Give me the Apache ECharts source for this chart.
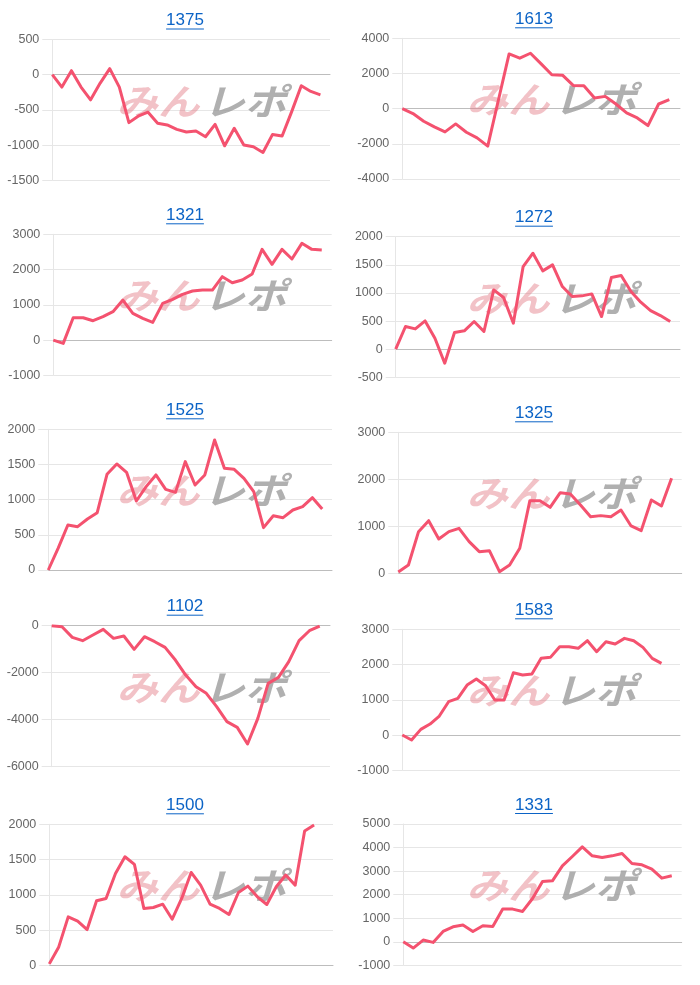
<!DOCTYPE html>
<html>
<head>
<meta charset="utf-8">
<script src="https://cdn.jsdelivr.net/npm/echarts@6/dist/echarts.min.js"></script>
<style>
html,body{margin:0;padding:0;background:#fff;}
#chart{width:700px;height:985px;}
</style>
</head>
<body>
<div id="chart"></div>
<script>
// ---- data ----
const titles = ['1375','1613','1321','1272','1525','1325','1102','1583','1500','1331'];
const categoryCounts = [30,27,29,30,30,29,28,31,31,29];
const yMins = [-1500,-4000,-1000,-500,0,0,-6000,-1000,0,-1000];
const yMaxs = [500,4000,3000,2000,2000,3000,0,3000,2000,5000];
const ySteps = [500,2000,1000,500,500,1000,2000,1000,500,1000];

const s1375 = [0,-176,57,-176,-357,-119,86,-176,-681,-586,-533,-690,-714,-776,-814,-800,-881,-705,-1010,-762,-1000,-1024,-1105,-848,-871,-524,-157,-238,-286];
const s1613 = [0,-280,-717,-1038,-1320,-868,-1340,-1660,-2130,490,3113,2868,3150,2547,1925,1906,1320,1302,604,698,264,-245,-528,-962,264,509];
const s1321 = [0,-95,634,634,549,662,804,1135,757,615,501,1041,1154,1296,1391,1419,1419,1798,1627,1703,1873,2573,2148,2573,2299,2744,2573,2554];
const s1272 = [0,403,361,503,195,-249,296,326,492,314,1054,918,462,1469,1706,1392,1499,1114,936,948,983,580,1274,1309,1025,835,687,598,492];
const s1525 = [0,308,640,616,725,815,1360,1507,1388,981,1185,1351,1147,1104,1540,1208,1351,1848,1445,1431,1303,1114,602,772,744,853,900,1028,867];
const s1325 = [30,177,886,1120,730,886,957,674,461,482,35,177,532,1546,1546,1404,1716,1687,1453,1205,1227,1205,1347,1007,908,1560,1432,2021];
const s1102 = [0,-43,-496,-638,-397,-156,-539,-440,-1007,-468,-681,-922,-1461,-2099,-2595,-2879,-3446,-4084,-4325,-5034,-3942,-2453,-2198,-1531,-638,-213,-14];
const s1583 = [0,-142,161,312,539,946,1041,1419,1589,1400,993,993,1769,1703,1731,2176,2204,2507,2507,2460,2677,2365,2649,2583,2743,2677,2488,2176,2034];
const s1500 = [20,261,687,626,507,915,948,1303,1540,1431,806,820,867,654,948,1317,1137,867,806,720,1033,1123,971,862,1114,1280,1137,1905,1990];
const s1331 = [0,-269,71,-28,438,636,707,438,679,650,1386,1386,1287,1838,2559,2588,3224,3620,4030,3648,3577,3648,3747,3323,3266,3083,2701,2800];
const seriesData = [s1375,s1613,s1321,s1272,s1525,s1325,s1102,s1583,s1500,s1331];

// ---- layout (px) ----
const boxes = [
  [52.3, 39.5, 330, 180.3],
  [402.3, 38.3, 680, 179],
  [53.3, 234.3, 331.7, 375.3],
  [395.7, 236.7, 680, 377.3],
  [48.3, 429.3, 332, 570],
  [398.3, 432.3, 681.7, 573.3],
  [51.7, 625.7, 330, 766.7],
  [402.3, 629.3, 680, 770.3],
  [49.3, 824.3, 333, 965.3],
  [403.3, 824, 681.7, 965.3]
];
const titleX = [185, 534];
const markX = [202, 552];

const FONT = "'Liberation Sans', Arial, sans-serif";
const TITLE_SIZE = 17;
const TITLE_COLOR = '#0b63c6';
const LINE_COLOR = '#f4526f';
const GRID_COLOR = '#e6e6e6';

const measure = (() => {
  const c = document.createElement('canvas').getContext('2d');
  return (t, f) => { c.font = f; return c.measureText(t).width; };
})();

const grid = [], xAxis = [], yAxis = [], series = [], title = [], graphic = [];
seriesData.forEach((data, i) => {
  const [l, t, r, b] = boxes[i];
  const col = i % 2;
  grid.push({left: l, top: t, width: r - l, height: b - t, containLabel: false});
  const cats = [];
  for (let k = 1; k <= categoryCounts[i]; k++) cats.push(String(k));
  xAxis.push({
    type: 'category', gridIndex: i, data: cats, boundaryGap: false,
    axisLabel: {show: false}, axisTick: {show: false}, splitLine: {show: false},
    axisLine: {show: true, onZero: true, lineStyle: {color: '#bdbdbd', width: 1}}
  });
  yAxis.push({
    type: 'value', gridIndex: i, min: yMins[i], max: yMaxs[i], interval: ySteps[i],
    axisLine: {show: true, lineStyle: {color: GRID_COLOR}},
    axisTick: {show: true, length: 10, lineStyle: {color: GRID_COLOR}},
    splitLine: {show: true, lineStyle: {color: GRID_COLOR}},
    axisLabel: {margin: 13, color: '#666', fontSize: 12.5, fontFamily: FONT,
      formatter: v => String(v)}
  });
  series.push({
    type: 'line', name: titles[i], xAxisIndex: i, yAxisIndex: i, data: data,
    showSymbol: false, symbol: 'none', z: 5,
    lineStyle: {color: LINE_COLOR, width: 3, join: 'round'}
  });
  const tcx = titleX[col];
  const tcy = t - 19.5;
  title.push({
    text: titles[i], left: tcx, top: tcy - 8, textAlign: 'center', padding: 0,
    textStyle: {fontSize: TITLE_SIZE, fontWeight: 'normal', color: TITLE_COLOR, fontFamily: FONT}
  });
  const tw = measure(titles[i], TITLE_SIZE + 'px ' + FONT);
  graphic.push({
    type: 'line', z: 10,
    shape: {x1: tcx - tw / 2, y1: tcy + 9, x2: tcx + tw / 2, y2: tcy + 9},
    style: {stroke: TITLE_COLOR, lineWidth: 1}
  });
  // watermark
  const wy = t + 61.5;
  const wx = markX[col];
  graphic.push({
    type: 'text', z: 1, x: wx - 44, y: wy, scaleX: 1.15, scaleY: 1,
    style: {text: 'みん', fill: 'rgba(226,120,130,0.45)', font: 'italic bold 36px "Noto Sans CJK JP"', textAlign: 'center', textVerticalAlign: 'middle'}
  });
  graphic.push({
    type: 'text', z: 1, x: wx + 43, y: wy, scaleX: 1.15, scaleY: 1,
    style: {text: 'レポ', fill: 'rgba(150,150,150,0.75)', font: 'italic bold 36px "Noto Sans CJK JP"', textAlign: 'center', textVerticalAlign: 'middle'}
  });
});

const chart = echarts.init(document.getElementById('chart'), null, {renderer: 'canvas'});
chart.setOption({
  animation: false,
  backgroundColor: '#fff',
  title, grid, xAxis, yAxis, series, graphic
});
</script>
</body>
</html>
